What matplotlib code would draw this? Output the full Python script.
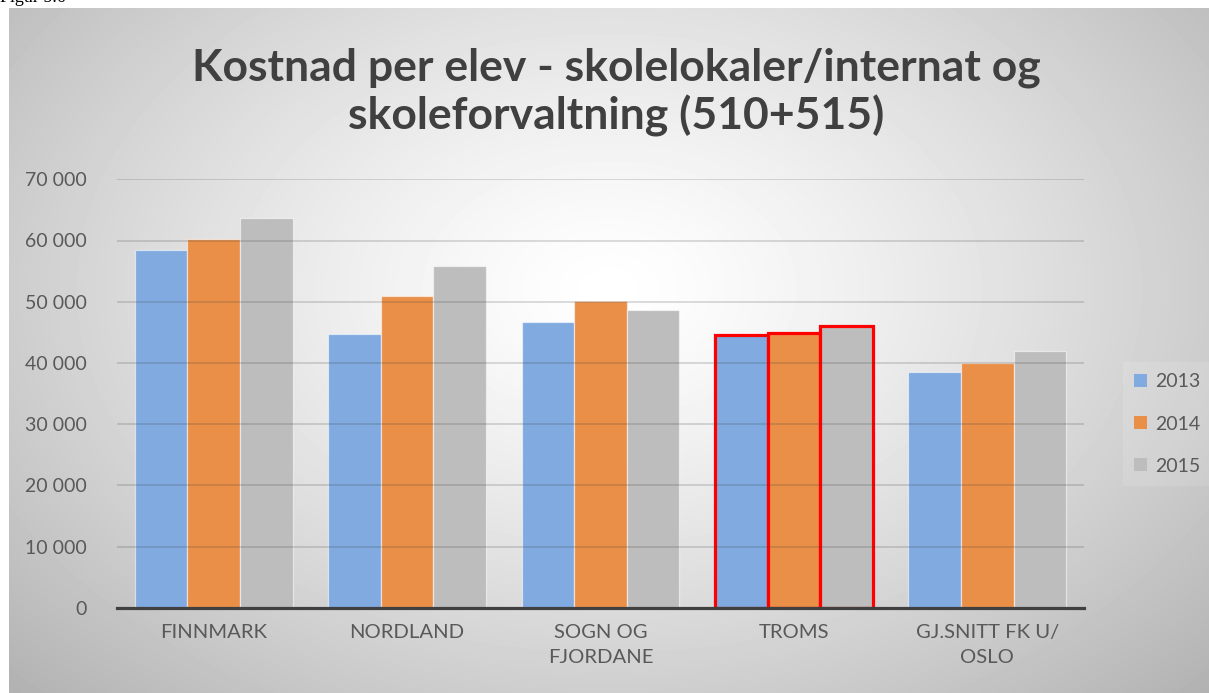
import numpy as np
import matplotlib
matplotlib.use("Agg")
import matplotlib.pyplot as plt
from matplotlib.patches import Patch

categories = ["FINNMARK", "NORDLAND", "SOGN OG\nFJORDANE", "TROMS", "GJ.SNITT FK U/\nOSLO"]
years = ["2013", "2014", "2015"]
v2013 = [58500, 44800, 46700, 44500, 38500]
v2014 = [60300, 50900, 50100, 44900, 40000]
v2015 = [63600, 55800, 48600, 46000, 42000]
yticks = [0, 10000, 20000, 30000, 40000, 50000, 60000, 70000]
ytick_labels = ["0", "10 000", "20 000", "30 000", "40 000", "50 000", "60 000", "70 000"]
title = "Kostnad per elev - skolelokaler/internat og\nskoleforvaltning (510+515)"
highlight = "TROMS"

colors = ["#80aae0", "#ea8f48", "#bdbdbd"]
txt = "#595959"

W, H = 1209, 693
fig = plt.figure(figsize=(W / 100, H / 100), dpi=100)
plt.rcParams['font.family'] = ['Lato', 'DejaVu Sans']

# background radial gradient (chart area from x=9, y=8)
x0, y0 = 9, 8
bg = fig.add_axes([x0 / W, 0, 1 - x0 / W, 1 - y0 / H], zorder=-10)
gw, gh = W - x0, H - y0
xx, yy = np.meshgrid(np.arange(gw), np.arange(gh))
cx, cy = 600, 280
r = np.sqrt(((xx - cx) / 760.0) ** 2 + ((yy - cy) / 520.0) ** 2)
val = 255 - 68 * np.clip(r, 0, 1.3) ** 1.3
img = np.clip(val, 0, 255) / 255.0
bg.imshow(img, cmap="gray", vmin=0, vmax=1, aspect="auto", interpolation="bilinear")
bg.axis("off")

fig.text(0.0, 1 - 2 / H, "Figur 5.6", family="Liberation Serif", fontsize=13,
         va="baseline", ha="left", color="black")

ax = fig.add_axes([117 / W, 85.3 / H, (1084 - 117) / W, (607.7 - 179.3) / H])
ax.patch.set_alpha(0)
ax.set_ylim(0, 70000)
ax.set_xlim(-0.5, len(categories) - 0.5)

w = 0.272
x = np.arange(len(categories))
series = [v2013, v2014, v2015]
for j, (vals, c) in enumerate(zip(series, colors)):
    for i, v in enumerate(vals):
        if categories[i] == highlight:
            ax.bar(x[i] + (j - 1) * w, v, width=w, color=c, edgecolor="#ff0000",
                   linewidth=2.3, zorder=2)
        else:
            ax.bar(x[i] + (j - 1) * w, v, width=w, color=c, edgecolor=(1, 1, 1, 0.55),
                   linewidth=0.9, zorder=2)

for t in yticks[1:]:
    ax.axhline(t, color=(0.25, 0.25, 0.25, 0.2), linewidth=1.3, zorder=3)

ax.set_yticks(yticks)
ax.set_yticklabels(ytick_labels)
ax.set_xticks(x)
ax.set_xticklabels(categories, linespacing=1.55)
ax.tick_params(axis="y", length=0, labelsize=14, labelcolor=txt, pad=22)
ax.tick_params(axis="x", length=0, labelsize=14.6, labelcolor=txt, pad=12)
for s in ["top", "right", "left"]:
    ax.spines[s].set_visible(False)
ax.spines["bottom"].set_color("#404040")
ax.spines["bottom"].set_linewidth(2.3)
ax.spines["bottom"].set_zorder(5)

fig.text(616 / W, 1 - 92 / H, title, ha="center", va="center", fontsize=32,
         fontweight="bold", color="#404040", linespacing=1.2)

handles = [Patch(facecolor=c, edgecolor="none") for c in colors]
leg = fig.legend(handles, years, loc="center left", bbox_to_anchor=(1113 / W, 1 - 424 / H),
                 frameon=True, fontsize=14, handlelength=0.65, handleheight=0.65,
                 handletextpad=0.4, labelspacing=1.3, borderpad=0.6,
                 facecolor="white", edgecolor="none", framealpha=0.12, fancybox=False)
for t in leg.get_texts():
    t.set_color(txt)

fig.savefig("out.png", dpi=100)
